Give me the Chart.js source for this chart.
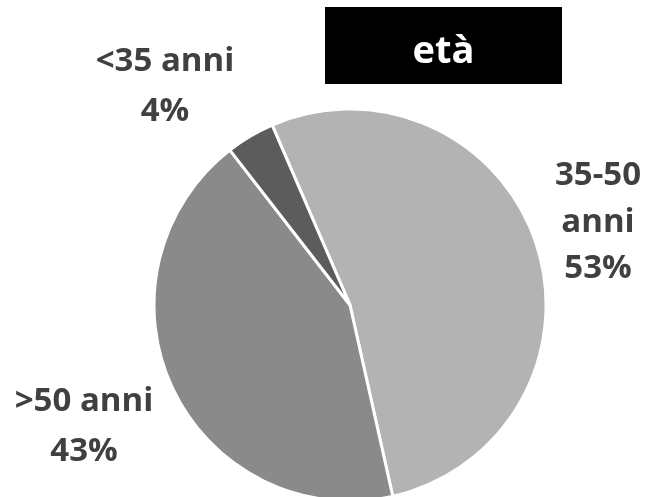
<!DOCTYPE html>
<html>
<head>
<meta charset="utf-8">
<script src="https://cdn.jsdelivr.net/npm/chart.js@4/dist/chart.umd.min.js"></script>
<style>
html,body{margin:0;padding:0;background:#fff;overflow:hidden;}
#wrap{position:relative;width:650px;height:497px;}
</style>
</head>
<body>
<div id="wrap"><canvas id="c" width="650" height="497"></canvas></div>
<script>
const title = 'età';
const categories = ['35-50 anni', '>50 anni', '<35 anni'];
const values = [53, 43, 4];
const labelLines = [['35-50', 'anni'], ['>50 anni'], ['<35 anni']];
const colors = ['#b3b3b3', '#8a8a8a', '#5c5c5c'];

const FONT = '"Open Sans", Lato, sans-serif';

const decor = {
  id: 'decor',
  afterDraw(chart, args, opts) {
    const ctx = chart.ctx;
    ctx.save();
    const b = opts.titleBox;
    ctx.fillStyle = '#000';
    ctx.fillRect(b.x, b.y, b.w, b.h);
    ctx.fillStyle = '#fff';
    ctx.font = 'bold 38px ' + FONT;
    ctx.textAlign = 'center';
    ctx.textBaseline = 'alphabetic';
    ctx.fillText(title, b.x + b.w / 2, 63);
    ctx.fillStyle = '#404040';
    ctx.font = 'bold 33px ' + FONT;
    categories.forEach((c, i) => {
      const lines = labelLines[i].concat([values[i] + '%']);
      const p = opts.labelPos[i];
      lines.forEach((t, j) => {
        ctx.fillText(t, p.x, p.y + j * p.lh);
      });
    });
    ctx.restore();
  }
};

new Chart(document.getElementById('c'), {
  type: 'pie',
  data: {
    labels: categories,
    datasets: [{
      data: values,
      backgroundColor: colors,
      borderColor: '#ffffff',
      borderWidth: 3,
      radius: 196
    }]
  },
  options: {
    responsive: false,
    animation: false,
    rotation: -23.4,
    events: [],
    layout: { padding: { left: 50, right: 0, top: 113, bottom: 0 } },
    plugins: {
      legend: { display: false },
      tooltip: { enabled: false },
      title: { display: false },
      decor: {
        titleBox: { x: 325, y: 7, w: 237, h: 77 },
        labelPos: [
          { x: 598, y: 185, lh: 46.5 },
          { x: 84, y: 411, lh: 50 },
          { x: 165, y: 71, lh: 50 }
        ]
      }
    }
  },
  plugins: [decor]
});
</script>
</body>
</html>
